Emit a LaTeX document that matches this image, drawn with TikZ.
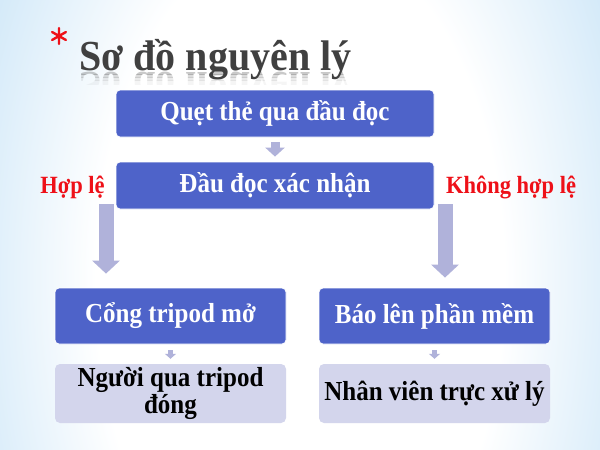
\documentclass[tikz,border=0pt]{standalone}
\usepackage{fontspec}
\usepackage{graphicx}
\setmainfont{Liberation Serif}
\usetikzlibrary{arrows.meta}
\definecolor{bgblue}{HTML}{8CC6EE}
\definecolor{boxblue}{HTML}{4E63C9}
\definecolor{boxlite}{HTML}{D3D5EC}
\definecolor{arrowc}{HTML}{B0B2DA}
\definecolor{redlab}{HTML}{EE1018}
\definecolor{titlegray}{HTML}{404040}
\newcommand\tallt[1]{\scalebox{1}[1.1]{#1}}
\newcommand\talltitle[1]{\scalebox{1}[1.07]{#1}}
\pgfdeclareradialshading{bgshade}{\pgfpoint{0bp}{0bp}}{color(0bp)=(white); color(15bp)=(white); color(26bp)=(bgblue!40!white); color(36bp)=(bgblue!75!white); color(45bp)=(bgblue); color(60bp)=(bgblue)}
\begin{document}
\begin{tikzpicture}[x=1pt,y=-1pt,
  boxfont/.style={font=\fontsize{25}{22.5}\selectfont\bfseries},
  darkbox/.style={boxfont, draw=white, line width=0.8pt, fill=boxblue, text=white, rounded corners=4pt, inner sep=0pt, align=center},
  litebox/.style={boxfont, fill=boxlite, text=black, rounded corners=5pt, inner sep=0pt, align=center},
  smallarrow/.style={arrowc, line width=9pt, -{Triangle[width=19pt,length=9pt]}},
  tinyarrow/.style={arrowc, line width=5pt, -{Triangle[width=11pt,length=5pt]}},
  bigarrow/.style={arrowc, line width=15pt, -{Triangle[width=27pt,length=13pt]}},
  redlabel/.style={font=\fontsize{22.5}{24}\selectfont\bfseries, text=redlab, inner sep=0pt, anchor=base},
  titlefont/.style={font=\fontsize{40}{40}\selectfont\bfseries, text=titlegray, inner sep=0pt}
]
\useasboundingbox (0,0) rectangle (600,450);
% background
\begin{scope}
\clip (0,0) rectangle (600,450);
\fill[bgblue] (0,0) rectangle (600,450);
\shade[shading=bgshade] (-40,-300) rectangle (640,860);
\end{scope}

% title
\coordinate (star) at (59,36);
\draw[redlab, line width=2.4pt, line cap=round]
  ([shift={(90:8)}]star) -- ([shift={(270:8)}]star)
  ([shift={(30:8)}]star) -- ([shift={(210:8)}]star)
  ([shift={(150:8)}]star) -- ([shift={(330:8)}]star);
\node[titlefont, anchor=base west] (title) at (79,70) {\talltitle{Sơ đồ nguyên lý}};
\foreach \ya/\yb/\op in {71/74/0.28, 74/77/0.18, 77/80/0.10, 80/84/0.05}{
  \begin{scope}
  \clip (0,\ya) rectangle (600,\yb);
  \begin{scope}[shift={(79,72)}, yscale=-1]
  \node[transform shape, titlefont, anchor=base west, text opacity=\op] at (0,0) {\talltitle{Sơ đồ nguyên lý}};
  \end{scope}
  \end{scope}
}

% boxes
\node[darkbox, minimum width=318pt, minimum height=47pt] (b1) at (275,113.5) {\tallt{Quẹt thẻ qua đầu đọc}};
\node[darkbox, minimum width=318pt, minimum height=47pt] (b2) at (275,185.5) {\tallt{Đầu đọc xác nhận}};
\node[darkbox, minimum width=231pt, minimum height=56pt] (b3) at (170.5,316) {\tallt{Cổng tripod mở}};
\node[darkbox, minimum width=231pt, minimum height=56pt] (b4) at (434.5,316) {\tallt{Báo lên phần mềm}};
\node[litebox, minimum width=231pt, minimum height=59pt] (b5) at (170.5,393.5) {\tallt{Người qua tripod}\\[1pt]\tallt{đóng}};
\node[litebox, minimum width=231pt, minimum height=59pt] (b6) at (434.5,393.5) {\tallt{Nhân viên trực xử lý}};

% labels
\node[redlabel] (hople) at (72.5,193) {\tallt{Hợp lệ}};
\node[redlabel] (khong) at (511,193) {\tallt{Không hợp lệ}};

% arrows
\draw[smallarrow, shorten <=5pt, shorten >=5pt] (b1) -- (b2);
\draw[tinyarrow, shorten <=6pt, shorten >=5pt] (b3) -- (b5);
\draw[tinyarrow, shorten <=6pt, shorten >=5pt] (b4) -- (b6);
\coordinate (lstart) at (106,204);
\coordinate (rstart) at (445,204);
\draw[bigarrow, shorten >=14pt] (lstart) -- (lstart |- b3.north);
\draw[bigarrow, shorten >=10pt] (rstart) -- (rstart |- b4.north);
\end{tikzpicture}
\end{document}
